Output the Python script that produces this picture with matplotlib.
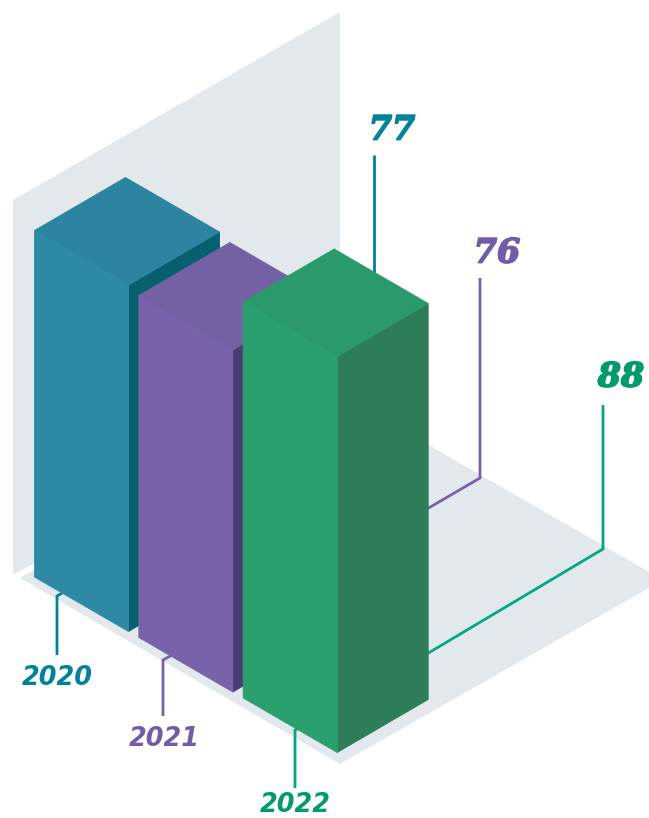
import matplotlib
matplotlib.use('Agg')
import matplotlib.pyplot as plt
import matplotlib.patheffects as pe
from matplotlib.patches import Polygon

years = ['2020', '2021', '2022']
values = [77, 76, 88]

# цвета: передняя грань, верх, боковая грань, линия, текст
front_colors = ['#2e8aa4', '#7862a9', '#2aa06f']
top_colors = ['#2d84a0', '#7361a4', '#2a9a6c']
side_colors = ['#06606f', '#4a3b74', '#2c7d58']
line_colors = ['#00829b', '#7a60aa', '#00a884']
text_colors = ['#00829b', '#725ca6', '#009a6c']

# параметры изометрии, в пикселях
X0, Y0 = 34.5, 577
U = (94, 54.5)
V = (91, -53)
H = 4.5
STEP = 1.11


def project(u, v, h=0):
    return (X0 + u * U[0] + v * V[0], Y0 + u * U[1] + v * V[1] - h * H)


fig = plt.figure(figsize=(6.49, 8.18), dpi=100)
ax = fig.add_axes([0, 0, 1, 1])
ax.set_xlim(0, 649)
ax.set_ylim(818, 0)
ax.axis('off')

# стенка и пол
ax.add_patch(Polygon([(13, 200), (340, 12), (340, 394), (13, 575)], color='#e3e8ec', lw=0, zorder=1))
ax.add_patch(Polygon([(20, 578), (340, 394), (663, 580), (340, 764)], color='#e3e8ec', lw=0, zorder=1))

# выноски значений
value_lines = [[(374, 155), (374, 290)],
               [(480, 278), (480, 478), (420, 513)],
               [(603, 405), (603, 549), (420, 658)]]
value_pos = [(392, 130), (497, 253), (621, 377)]

# выноски годов
year_lines = [[(57, 655), (57, 596), (64, 592)],
              [(163, 716), (163, 660), (174, 654)],
              [(295, 788), (295, 730), (299, 728)]]
year_pos = [(57, 678), (164, 739), (295, 805)]

for i in range(3):
    for pts in (value_lines[i], year_lines[i]):
        ax.plot([p[0] for p in pts], [p[1] for p in pts], color=line_colors[i],
                lw=2.0, solid_joinstyle='miter', solid_capstyle='butt', zorder=2)
    # обводка делает цифры жирнее
    ax.text(value_pos[i][0], value_pos[i][1], str(values[i]), color=text_colors[i], fontsize=24,
            family='DejaVu Serif', weight='bold', style='italic', ha='center', va='center',
            path_effects=[pe.withStroke(linewidth=1.3, foreground=text_colors[i])])
    ax.text(year_pos[i][0], year_pos[i][1], years[i], color=text_colors[i], fontsize=18.4,
            family='DejaVu Sans', weight='bold', style='italic', ha='center', va='center')

# столбцы
for i, val in enumerate(values):
    u0 = i * STEP
    u1 = u0 + 1
    z = 3 + i
    side = [project(u1, 0), project(u1, 1), project(u1, 1, val), project(u1, 0, val)]
    top = [project(u0, 0, val), project(u0, 1, val), project(u1, 1, val), project(u1, 0, val)]
    front = [project(u0, 0), project(u1, 0), project(u1, 0, val), project(u0, 0, val)]
    # кромка в цвет грани, чтобы не было светлых швов
    ax.add_patch(Polygon(side, fc=side_colors[i], ec=side_colors[i], lw=0.6, zorder=z))
    ax.add_patch(Polygon(top, fc=top_colors[i], ec=top_colors[i], lw=0.6, zorder=z))
    ax.add_patch(Polygon(front, fc=front_colors[i], ec=front_colors[i], lw=0.6, zorder=z))

fig.savefig('out.png', dpi=100)
